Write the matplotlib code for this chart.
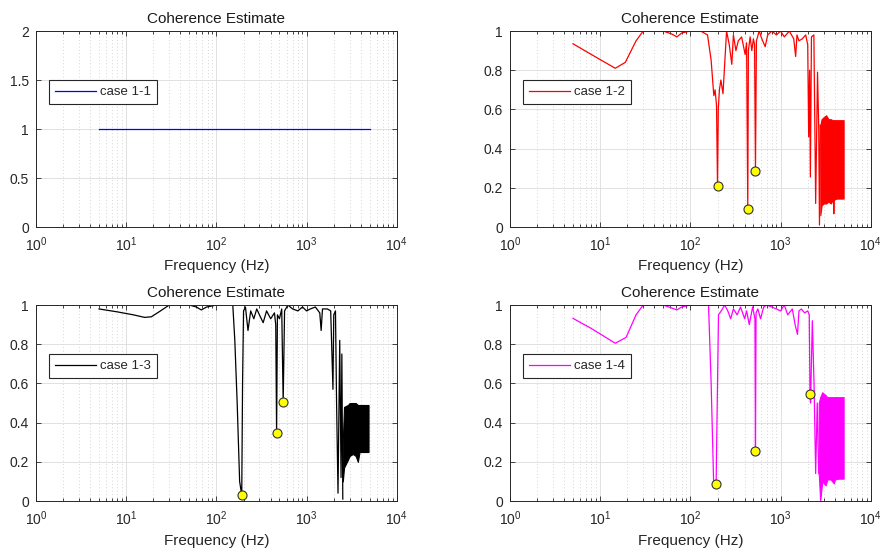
import numpy as np
import matplotlib
matplotlib.use("Agg")
import matplotlib.pyplot as plt
from matplotlib.ticker import FuncFormatter, LogLocator, NullFormatter

plt.rcParams['font.family'] = ['Liberation Sans', 'DejaVu Sans']
plt.rcParams['mathtext.fontset'] = 'custom'
plt.rcParams['mathtext.rm'] = 'Liberation Sans'
plt.rcParams['mathtext.default'] = 'rm'

# case 1-1: flat coherence
f1 = [5, 5000]
c1 = [1.0, 1.0]

# case 1-2
f2 = [5, 8, 14.7, 19, 25, 30, 50, 62, 71, 80, 100, 130, 155, 170, 182, 188, 195, 200,
      204, 210, 218, 230, 252, 270, 288, 300, 320, 340, 370, 405, 420, 433, 440, 460,
      480, 500, 515, 527, 540, 580, 620, 675, 720, 800, 900, 1000, 1100, 1250, 1400,
      1470, 1520, 1600, 1740, 1900, 2000, 2050, 2100, 2140, 2200, 2340, 2450, 2570,
      2650, 2700, 2760]
c2 = [0.935, 0.88, 0.81, 0.84, 0.95, 1.0, 1.0, 0.985, 0.97, 0.99, 1.0, 1.0, 0.98, 0.85,
      0.67, 0.70, 0.62, 0.21, 0.60, 0.70, 0.75, 0.68, 1.0, 0.93, 0.83, 0.98, 0.90, 0.95,
      0.97, 0.88, 0.94, 0.094, 0.90, 0.97, 0.90, 0.96, 0.93, 0.287, 0.95, 1.0, 0.96,
      0.92, 0.98, 1.0, 0.98, 1.0, 0.97, 1.0, 0.96, 0.87, 0.98, 0.95, 0.96, 0.98, 0.93,
      0.46, 0.80, 0.255, 0.97, 0.98, 0.12, 0.79, 0.50, 0.01, 0.52]
band2_f = [2760, 2850, 3000, 3200, 3400, 3600, 3800, 3850, 3900, 4200, 4600, 5000]
band2_lo = [0.06, 0.11, 0.12, 0.12, 0.13, 0.12, 0.14, 0.07, 0.14, 0.145, 0.145, 0.145]
band2_hi = [0.52, 0.55, 0.56, 0.57, 0.55, 0.55, 0.545, 0.545, 0.545, 0.545, 0.545, 0.545]
mk2_f = [200, 433, 527]
mk2_c = [0.21, 0.094, 0.287]

# case 1-3
f3 = [5, 8, 12, 16, 19, 24, 30, 50, 60, 68, 78, 100, 130, 152, 160, 170, 181, 191, 195,
      200, 210, 224, 240, 260, 280, 300, 330, 360, 400, 440, 455, 465, 475, 500, 530,
      550, 570, 620, 700, 800, 900, 1000, 1100, 1250, 1400, 1450, 1500, 1700, 1850,
      1960, 2000, 2090, 2150, 2230, 2330, 2410, 2460, 2520]
c3 = [0.98, 0.965, 0.95, 0.937, 0.94, 0.97, 1.0, 1.0, 0.99, 0.975, 0.99, 1.0, 1.0, 1.0,
      0.82, 0.5, 0.1, 0.029, 0.6, 0.97, 0.99, 0.87, 0.97, 0.93, 0.98, 0.95, 0.91, 0.97,
      0.93, 0.96, 0.90, 0.346, 0.95, 0.93, 0.98, 0.506, 0.97, 1.0, 0.98, 0.97, 0.99,
      0.97, 0.98, 0.99, 0.96, 0.87, 0.98, 0.98, 0.97, 0.57, 0.95, 0.97, 0.5, 0.04, 0.82,
      0.12, 0.75, 0.01]
band3_f = [2520, 2600, 2870, 3000, 3260, 3500, 3700, 3860, 4200, 4860]
band3_lo = [0.10, 0.17, 0.21, 0.23, 0.24, 0.23, 0.20, 0.25, 0.25, 0.25]
band3_hi = [0.31, 0.48, 0.49, 0.50, 0.50, 0.50, 0.49, 0.49, 0.49, 0.49]
mk3_f = [191, 465, 550]
mk3_c = [0.029, 0.346, 0.506]

# case 1-4
f4 = [5, 8, 14.7, 19.4, 25, 30, 50, 62, 71, 80, 100, 130, 159, 170, 181, 193, 200, 205,
      220, 240, 260, 280, 300, 330, 360, 400, 420, 450, 490, 520, 527, 535, 560, 600,
      650, 700, 800, 900, 1000, 1100, 1200, 1350, 1450, 1540, 1600, 1700, 1850, 2000,
      2080, 2120, 2150, 2250, 2350, 2450, 2550, 2650]
c4 = [0.932, 0.88, 0.805, 0.835, 0.95, 1.0, 1.0, 0.985, 0.975, 0.99, 1.0, 1.0, 1.0, 0.6,
      0.1, 0.088, 0.6, 0.95, 0.97, 1.0, 0.97, 0.93, 0.98, 0.95, 0.99, 0.93, 0.97, 0.90,
      0.99, 0.93, 0.256, 0.96, 0.98, 0.93, 0.99, 1.0, 0.99, 0.98, 0.97, 1.0, 0.95, 0.98,
      0.90, 0.85, 0.97, 0.98, 0.96, 0.97, 0.95, 0.545, 0.5, 0.92, 0.6, 0.14, 0.5, 0.14]
band4_f = [2650, 2750, 2900, 3160, 3300, 3600, 3900, 4000, 4400, 5000]
band4_lo = [0.14, 0.0, 0.10, 0.08, 0.11, 0.11, 0.09, 0.11, 0.114, 0.114]
band4_hi = [0.50, 0.53, 0.555, 0.54, 0.53, 0.53, 0.53, 0.53, 0.53, 0.53]
mk4_f = [193, 527, 2120]
mk4_c = [0.088, 0.256, 0.545]

GRAY = '#262626'


def style_axes(ax, ylim, yticks):
    ax.set_xscale('log')
    ax.set_xlim(1, 1e4)
    ax.set_ylim(*ylim)
    ax.set_yticks(yticks)
    ax.yaxis.set_major_formatter(FuncFormatter(lambda v, p: '%g' % v))
    ax.xaxis.set_major_locator(LogLocator(base=10, numticks=10))
    ax.xaxis.set_minor_locator(LogLocator(base=10, subs=np.arange(2, 10), numticks=20))
    ax.xaxis.set_minor_formatter(NullFormatter())
    ax.grid(True, which='major', color='#dcdcdc', lw=0.6, ls='-')
    ax.grid(True, which='minor', axis='x', color='#c8c8c8', lw=0.6, ls=(0, (1, 3)))
    ax.set_axisbelow(True)
    ax.tick_params(which='both', direction='in', top=True, right=True, colors=GRAY,
                   labelsize=10, width=0.6)
    ax.tick_params(which='major', length=3.5)
    ax.tick_params(which='minor', length=2)
    ax.tick_params(axis='x', which='major', pad=6)
    ax.tick_params(axis='y', which='major', pad=5)
    for s in ax.spines.values():
        s.set_color(GRAY)
        s.set_linewidth(0.7)
    ax.set_title('Coherence Estimate', fontsize=11, color='#1a1a1a', pad=6)
    ax.set_xlabel('Frequency (Hz)', fontsize=11, color=GRAY, labelpad=4)


def add_legend(ax, label):
    leg = ax.legend([label], loc='upper left', bbox_to_anchor=(0.036, 0.75),
                    borderaxespad=0, fontsize=9.5, fancybox=False, framealpha=1,
                    edgecolor=GRAY, handlelength=3.1, handletextpad=0.35,
                    borderpad=0.45)
    leg.get_frame().set_linewidth(0.8)
    for t in leg.get_texts():
        t.set_color(GRAY)


fig = plt.figure(figsize=(8.8, 5.53), dpi=100)
w, h = 0.410, 0.3544
ax1 = fig.add_axes([0.0409, 0.5895, w, h])
ax2 = fig.add_axes([0.5795, 0.5895, w, h])
ax3 = fig.add_axes([0.0409, 0.094, w, h])
ax4 = fig.add_axes([0.5795, 0.094, w, h])

# case 1-1
style_axes(ax1, (0, 2), [0, 0.5, 1, 1.5, 2])
ax1.plot(f1, c1, color='#0000ff', lw=0.9)
add_legend(ax1, 'case 1-1')

# case 1-2 .. 1-4
panels = [
    (ax2, f2, c2, band2_f, band2_lo, band2_hi, mk2_f, mk2_c, '#ff0000', 'case 1-2'),
    (ax3, f3, c3, band3_f, band3_lo, band3_hi, mk3_f, mk3_c, '#000000', 'case 1-3'),
    (ax4, f4, c4, band4_f, band4_lo, band4_hi, mk4_f, mk4_c, '#ff00ff', 'case 1-4'),
]
for ax, f, c, bf, blo, bhi, mf, mc, col, lab in panels:
    style_axes(ax, (0, 1), [0, 0.2, 0.4, 0.6, 0.8, 1])
    ax.plot(f, c, color=col, lw=0.9)
    ax.fill_between(bf, blo, bhi, color=col, lw=0.8, edgecolor=col)
    ax.plot(mf, mc, 'o', ms=6.5, mfc='#ffff00', mec='#333333', mew=0.8, zorder=5)
    add_legend(ax, lab)

fig.savefig('out.png', dpi=100)
